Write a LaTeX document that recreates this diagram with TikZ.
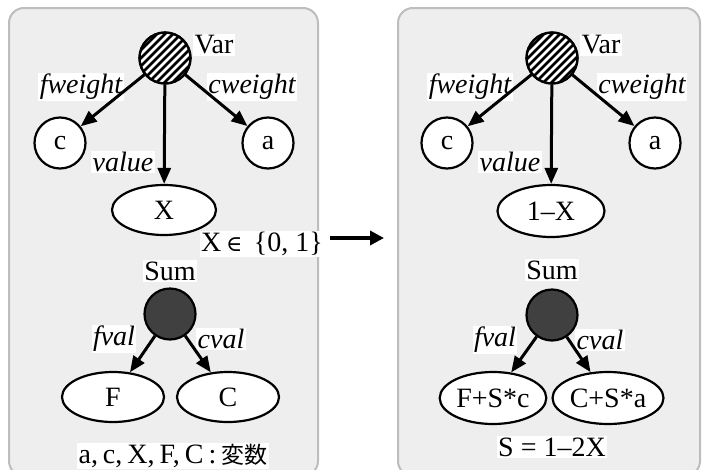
\documentclass[tikz,border=0pt]{standalone}
\usepackage{fontspec}
\setmainfont{Liberation Serif}[ItalicFont={Liberation Serif Italic}]
\newfontfamily\cjk{Noto Sans CJK JP}
\newfontfamily\symfnt{DejaVu Serif}
\usetikzlibrary{shapes.geometric,arrows.meta,calc}

\definecolor{panelfill}{HTML}{EEEEEE}
\definecolor{panelline}{HTML}{BDBDBD}
\definecolor{sumfill}{HTML}{404040}

\tikzset{
  panel/.style={draw=panelline, fill=panelfill, line width=2pt, rounded corners=15pt},
  circnode/.style={circle, draw, line width=2.2pt, minimum size=51pt, inner sep=0pt, fill=white},
  sumnode/.style={circnode, fill=sumfill},
  ellnode/.style={ellipse, draw, line width=2.2pt, minimum width=104pt, minimum height=50pt, inner sep=1pt, fill=white},
  lbl/.style={fill=white, inner sep=1.5pt},
  elbl/.style={lbl, font=\fontsize{28}{30}\selectfont\itshape},
  conn/.style={-{Triangle[length=16pt,width=13pt]}, line width=3pt},
  bigarrow/.style={-{Triangle[length=14pt,width=14pt]}, line width=4.5pt},
  stripe/.style={line width=2.7pt},
}

% hatched fill of a circular node: rising diagonal stripes, then its outline
\newcommand{\hatchcircle}[1]{%
  \begin{scope}
    \clip (#1.center) circle (25.5pt);
    \foreach \k in {-64,-56,...,64}
      \draw[stripe] ($(#1.center)+(\k-40,40)$) -- ++(80,-80);
  \end{scope}
  \draw[line width=2.2pt] (#1.center) circle (25.5pt);
}

\begin{document}
\begin{tikzpicture}[x=1pt, y=-1pt, every node/.append style={font=\fontsize{28}{30}\selectfont}]
\useasboundingbox (0,0) rectangle (702,469);

% panels
\path[panel] (9,8) rectangle (318,476);
\path[panel] (398,8) rectangle (700,476);

% ---------- left panel ----------
\node[circnode] (var1) at (165,58) {};
\hatchcircle{var1}
\node[lbl] (varl1) at (214,45) {Var};
\node[circnode] (c1) at (60,143) {c};
\node[circnode] (a1) at (268,143) {a};
\node[ellnode] (x1) at (164,210) {X};
\node[elbl] (fw1) at (81,87) {fweight};
\node[elbl] (cw1) at (252,87) {cweight};
\node[elbl] (val1) at (123,162) {value};
\node[lbl] (dom1) at (262,244) {X\,{\symfnt\fontsize{22}{24}\selectfont ∈}\, \{0, 1\}};

\node[lbl] (suml1) at (170,271) {Sum};
\node[sumnode] (sum1) at (170,314) {};
\node[elbl] (fv1) at (114,339) {fval};
\node[elbl] (cv1) at (221,339) {cval};
\node[ellnode, minimum width=102pt] (f1) at (113,397) {F};
\node[ellnode, minimum width=102pt] (cc1) at (228,397) {C};
\node[lbl] (note1) at (173,456) {\spaceskip=5pt a, c, X, F, C : {\cjk\fontsize{23}{26}\selectfont 変数}};

\draw[conn] (var1) -- (c1);
\draw[conn] (var1) -- (a1);
\draw[conn] (var1) -- (x1);
\draw[conn] (sum1) -- (f1);
\draw[conn] (sum1) -- (cc1);

% ---------- transition arrow ----------
\coordinate (tfrom) at (330,238);
\coordinate (tto) at (384,238);
\draw[bigarrow] (tfrom) -- (tto);

% ---------- right panel ----------
\node[circnode] (var2) at (552,58) {};
\hatchcircle{var2}
\node[lbl] (varl2) at (601,45) {Var};
\node[circnode] (c2) at (447,143) {c};
\node[circnode] (a2) at (655,143) {a};
\node[ellnode, minimum width=107pt, minimum height=52pt] (x2) at (551,211) {1–X};
\node[elbl] (fw2) at (470,87) {fweight};
\node[elbl] (cw2) at (642,87) {cweight};
\node[elbl] (val2) at (510,162) {value};

\node[lbl] (suml2) at (552,270) {Sum};
\node[sumnode] (sum2) at (552,315) {};
\node[elbl] (fv2) at (495,340) {fval};
\node[elbl] (cv2) at (600,340) {cval};
\node[ellnode, minimum width=103pt, minimum height=52pt] (f2) at (493,398) {F+S*c};
\node[ellnode, minimum width=103pt, minimum height=52pt] (cc2) at (608,398) {C+S*a};
\node[lbl] (note2) at (552,447) {S = 1–2X};

\draw[conn] (var2) -- (c2);
\draw[conn] (var2) -- (a2);
\draw[conn] (var2) -- (x2);
\draw[conn] (sum2) -- (f2);
\draw[conn] (sum2) -- (cc2);
\end{tikzpicture}
\end{document}
